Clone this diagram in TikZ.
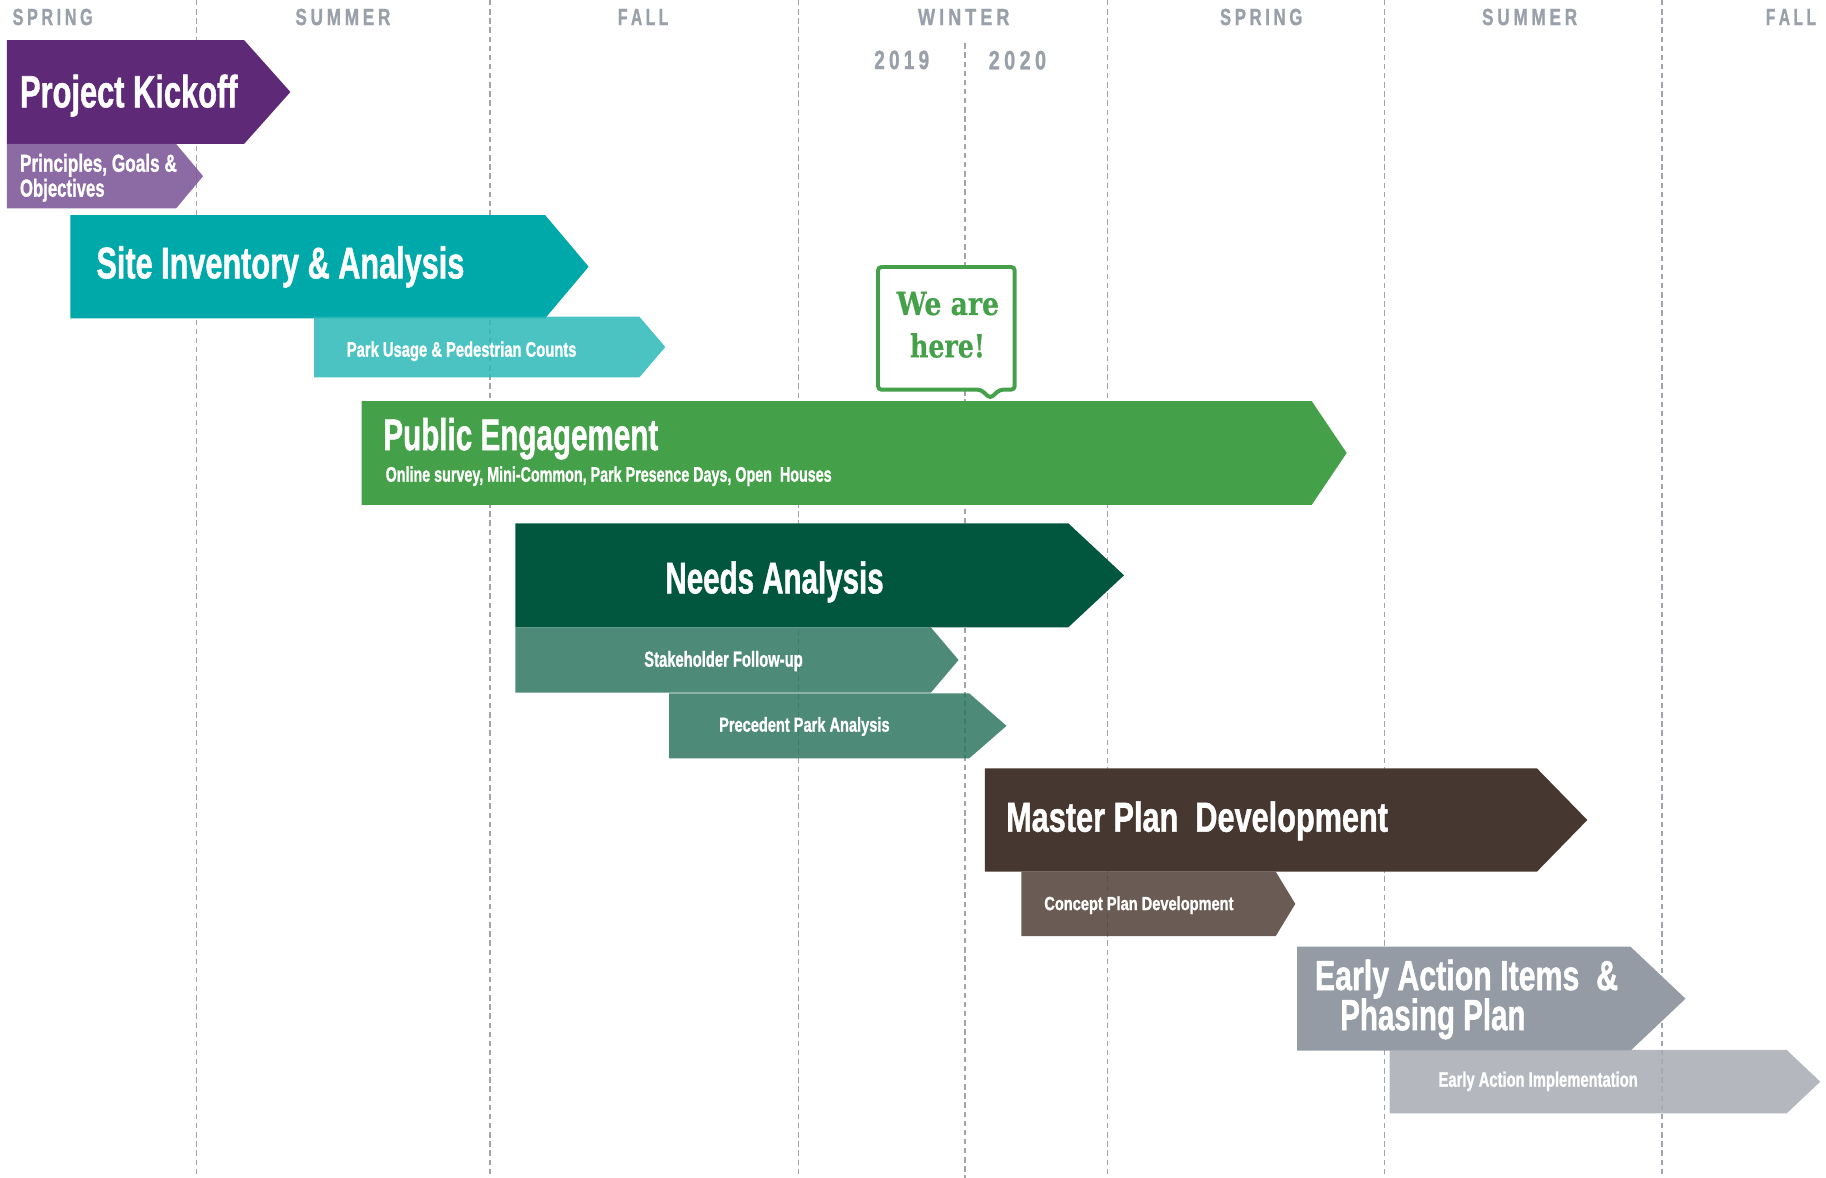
\documentclass[tikz,border=0pt]{standalone}
\usepackage{fontspec}
\setmainfont{Liberation Sans}[BoldFeatures={FakeBold=1.3}]
\newfontfamily\slab{DejaVu Serif}[BoldFeatures={FakeBold=0.6}]
\usepackage{graphicx}
\definecolor{cKick}{RGB}{94,42,120}
\definecolor{cKickSub}{RGB}{120,80,148}
\definecolor{cTeal}{RGB}{0,169,169}
\definecolor{cTealSub}{RGB}{44,184,184}
\definecolor{cGreen}{RGB}{69,161,73}
\definecolor{cNeeds}{RGB}{1,87,62}
\definecolor{cNeedsSub}{RGB}{46,117,95}
\definecolor{cMaster}{RGB}{70,56,48}
\definecolor{cMasterSub}{RGB}{80,64,54}
\definecolor{cEarly}{RGB}{149,155,165}
\definecolor{cEarlySub}{RGB}{167,172,179}
\definecolor{cSeason}{RGB}{154,160,169}
\definecolor{cGrid}{RGB}{160,165,173}
\newcommand\fitt[3]{\resizebox{#1pt}{\height}{\fontsize{#2}{#2}\selectfont\bfseries #3}}
\newcommand\ls{\kern0.22em}
\newcommand\chev[6]{\fill[#1] (#2,#3) -- (#4,#3) -- (#5,{(#3+#6)/2}) -- (#4,#6) -- (#2,#6) -- cycle;}
\tikzset{
  lbl/.style={anchor=base west, inner sep=0pt, outer sep=0pt, text=white},
  slbl/.style={anchor=base west, inner sep=0pt, outer sep=0pt, text=cSeason},
  gridline/.style={draw=cGrid, line width=0.55pt, dash pattern=on 2.3pt off 1.6pt},
  subbar/.style={fill=#1, fill opacity=0.85},
  callout/.style={fill=white, draw=cGreen, line width=1.7pt, rounded corners=1.5pt},
  hereText/.style={anchor=base, inner sep=0pt, outer sep=0pt, text=cGreen}
}
\begin{document}
\begin{tikzpicture}[x=0.5pt, y=-0.5pt]
\useasboundingbox (0,0) rectangle (1560,1006.4);
% grid lines
\foreach \gx in {168,418.5,682,946,1183,1420}
  \draw[gridline] (\gx,0) -- (\gx,1006.4);
\draw[gridline] (824.5,37) -- (824.5,1006.4);
% season labels
\node[slbl] (s1) at (10.8,21.4) {\fitt{34.2}{10}{S\ls P\ls R\ls I\ls N\ls G}};
\node[slbl] (s2) at (252.4,21.4) {\fitt{40.55}{10}{S\ls U\ls M\ls M\ls E\ls R}};
\node[slbl] (s3) at (527.9,21.4) {\fitt{21.55}{10}{F\ls A\ls L\ls L}};
\node[slbl] (s4) at (784.3,21.4) {\fitt{39.05}{10}{W\ls I\ls N\ls T\ls E\ls R}};
\node[slbl] (s5) at (1042.3,21.4) {\fitt{35.15}{10}{S\ls P\ls R\ls I\ls N\ls G}};
\node[slbl] (s6) at (1266.2,21.4) {\fitt{40.6}{10}{S\ls U\ls M\ls M\ls E\ls R}};
\node[slbl] (s7) at (1508.6,21.4) {\fitt{21.45}{10}{F\ls A\ls L\ls L}};
\node[slbl] (y1) at (746.9,59) {\fitt{23.45}{11.3}{2\ls 0\ls 1\ls 9}};
\node[slbl] (y2) at (844.7,59.2) {\fitt{24.5}{11.3}{2\ls 0\ls 2\ls 0}};
% main bars
\chev{cKick}{5.9}{34.2}{208.5}{248.1}{123}
\chev{cTeal}{60.2}{183.7}{465.7}{502.9}{272}
\chev{cGreen}{309}{342.6}{1120.6}{1150.5}{431.4}
\chev{cNeeds}{440.3}{447.1}{912.7}{960.3}{535.9}
\chev{cMaster}{841.3}{656.4}{1313}{1356.1}{744.7}
\chev{cEarly}{1108.1}{808.8}{1393}{1440}{897.6}
% sub bars
\chev{subbar=cKickSub}{5.9}{123}{150.5}{173.5}{178}
\chev{subbar=cTealSub}{268.3}{270.5}{546.2}{568.4}{322.4}
\chev{subbar=cNeedsSub}{440.3}{535.9}{795.2}{818.9}{591.8}
\chev{subbar=cNeedsSub}{571.7}{592.3}{828}{859.9}{647.9}
\chev{subbar=cMasterSub}{872.5}{744.7}{1089.9}{1106.6}{799.7}
\chev{subbar=cEarlySub}{1187.2}{897}{1526.4}{1555.1}{951.2}
% callout
\draw[callout] (750.1,228.1) -- (866.9,228.1) -- (866.9,332.9) -- (854,332.9)
  -- (846,340.3) -- (838,332.9) -- (750.1,332.9) -- cycle;
\node[hereText] (here1) at (809.75,269.1) {\resizebox{43.75pt}{\height}{\fontsize{13.6}{13.6}\selectfont\slab\bfseries We are}};
\node[hereText] (here2) at (809.5,305.3) {\resizebox{32pt}{\height}{\fontsize{13.6}{13.6}\selectfont\slab\bfseries here!}};
% bar texts
\node[lbl] (tKick) at (17.1,91.7) {\fitt{92.95}{19.3}{Project Kickoff}};
\node[lbl] (tPrin1) at (17.1,146.7) {\fitt{67}{10.5}{Principles, Goals \&}};
\node[lbl] (tPrin2) at (17.1,168) {\fitt{36.15}{10.5}{Objectives}};
\node[lbl] (tSite) at (82.4,237.8) {\fitt{157.15}{18.9}{Site Inventory \& Analysis}};
\node[lbl] (tPark) at (296.3,304.7) {\fitt{98.1}{8.95}{Park Usage \& Pedestrian Counts}};
\node[lbl] (tPub) at (327.5,384.5) {\fitt{117.45}{18.9}{Public Engagement}};
\node[lbl] (tPubSub) at (329.5,411.5) {\fitt{190.5}{8.95}{Online survey, Mini-Common, Park Presence Days, Open\ \ Houses}};
\node[lbl] (tNeeds) at (568.5,506.9) {\fitt{93.25}{18.85}{Needs Analysis}};
\node[lbl] (tStake) at (550.4,569.6) {\fitt{67.7}{9.3}{Stakeholder Follow-up}};
\node[lbl] (tPrec) at (614.4,625.1) {\fitt{72.8}{8.6}{Precedent Park Analysis}};
\node[lbl] (tMaster) at (859.6,710.5) {\fitt{163.1}{17.9}{Master Plan\ \ Development}};
\node[lbl] (tConcept) at (892.2,777.5) {\fitt{80.8}{8.1}{Concept Plan Development}};
\node[lbl] (tEarly1) at (1123.4,845.8) {\fitt{129.5}{17.9}{Early Action Items\ \ \&}};
\node[lbl] (tEarly2) at (1145,880) {\fitt{79.15}{18.6}{Phasing Plan}};
\node[lbl] (tImpl) at (1229,928.4) {\fitt{85.1}{8.95}{Early Action Implementation}};
\end{tikzpicture}
\end{document}
